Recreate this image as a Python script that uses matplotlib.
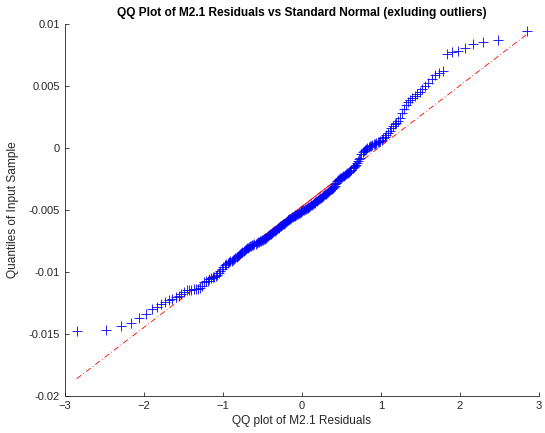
import statistics
import numpy as np
import matplotlib
matplotlib.use("Agg")
import matplotlib.pyplot as plt

plt.rcParams['font.family'] = ['Liberation Sans', 'DejaVu Sans']

# sorted residuals (M2.1, outliers removed)
residuals = [
    -0.01472, -0.01464, -0.01432, -0.01408, -0.01375, -0.01338, -0.01300, -0.01280, -0.01262, -0.01238,
    -0.01227, -0.01216, -0.01205, -0.01190, -0.01176, -0.01160, -0.01149, -0.01146, -0.01143, -0.01140,
    -0.01137, -0.01135, -0.01133, -0.01110, -0.01082, -0.01076, -0.01069, -0.01060, -0.01052, -0.01044,
    -0.01037, -0.01030, -0.01022, -0.01005, -0.00988, -0.00972, -0.00957, -0.00945, -0.00938, -0.00930,
    -0.00922, -0.00915, -0.00908, -0.00901, -0.00894, -0.00886, -0.00879, -0.00872, -0.00865, -0.00858,
    -0.00848, -0.00838, -0.00830, -0.00823, -0.00816, -0.00810, -0.00804, -0.00799, -0.00794, -0.00789,
    -0.00784, -0.00779, -0.00775, -0.00771, -0.00767, -0.00762, -0.00758, -0.00754, -0.00749, -0.00744,
    -0.00740, -0.00735, -0.00731, -0.00727, -0.00722, -0.00715, -0.00708, -0.00702, -0.00696, -0.00690,
    -0.00685, -0.00679, -0.00673, -0.00667, -0.00661, -0.00655, -0.00649, -0.00642, -0.00637, -0.00632,
    -0.00626, -0.00620, -0.00615, -0.00609, -0.00603, -0.00596, -0.00590, -0.00584, -0.00579, -0.00574,
    -0.00569, -0.00564, -0.00559, -0.00554, -0.00551, -0.00547, -0.00543, -0.00539, -0.00534, -0.00530,
    -0.00526, -0.00521, -0.00517, -0.00512,
    -0.00508, -0.00503, -0.00499, -0.00494, -0.00490, -0.00486, -0.00481, -0.00477, -0.00472, -0.00467,
    -0.00461, -0.00456, -0.00451, -0.00446, -0.00440, -0.00435, -0.00429, -0.00424, -0.00418, -0.00412,
    -0.00407, -0.00401, -0.00396, -0.00390, -0.00386, -0.00380, -0.00374, -0.00368, -0.00362, -0.00355,
    -0.00348, -0.00341, -0.00334, -0.00327, -0.00320, -0.00312, -0.00303, -0.00293, -0.00282, -0.00270,
    -0.00260, -0.00252, -0.00245, -0.00239, -0.00233, -0.00228, -0.00222, -0.00216, -0.00210, -0.00204,
    -0.00198, -0.00192, -0.00185, -0.00175, -0.00165, -0.00155, -0.00145, -0.00134, -0.00120, -0.00105,
    -0.00092, -0.00080, -0.00050, -0.00034, -0.00024, -0.00016, -0.00008, -0.00002, 0.00006, 0.00014,
    0.00020, 0.00026, 0.00031, 0.00036, 0.00041, 0.00046, 0.00052, 0.00059, 0.00067, 0.00078,
    0.00090, 0.00105, 0.00120, 0.00137, 0.00158, 0.00178, 0.00190, 0.00203, 0.00215, 0.00240,
    0.00280, 0.00315, 0.00350, 0.00375, 0.00388, 0.00400, 0.00418, 0.00436, 0.00455, 0.00478,
    0.00503, 0.00528, 0.00555, 0.00587, 0.00605, 0.00625, 0.00756, 0.00774, 0.00781, 0.00809,
    0.00837, 0.00855, 0.00874, 0.00941,
]

x_ticks = [-3, -2, -1, 0, 1, 2, 3]
y_ticks = [-0.02, -0.015, -0.01, -0.005, 0, 0.005, 0.01]
y_ticklabels = ["-0.02", "-0.015", "-0.01", "-0.005", "0", "0.005", "0.01"]

# theoretical normal quantiles like matlab's qqplot: (i-0.5)/n
y = np.sort(np.array(residuals))
n = len(y)
nd = statistics.NormalDist()
x = np.array([nd.inv_cdf((i - 0.5) / n) for i in range(1, n + 1)])

# reference line through the 1st and 3rd quartiles
q1x, q3x = nd.inv_cdf(0.25), nd.inv_cdf(0.75)
q1y, q3y = np.percentile(y, [25, 75])
slope = (q3y - q1y) / (q3x - q1x)
icpt = q1y - slope * q1x

fig = plt.figure(figsize=(5.45, 4.33), dpi=100)
ax = fig.add_axes([0.119, 0.0855, 0.870, 0.859])

xe = np.array([x.min(), x.max()])
ax.plot(xe, icpt + slope * xe, color='red', lw=0.6, linestyle=(0, (7, 3, 1, 3)))
xq = np.array([q1x, q3x])
ax.plot(xq, icpt + slope * xq, color='red', lw=0.6)
ax.plot(x, y, '+', color='blue', mec='blue', ms=7, mew=0.6)

ax.set_xlim(-3, 3)
ax.set_ylim(-0.02, 0.01)
ax.set_xticks(x_ticks)
ax.set_yticks(y_ticks)
ax.set_yticklabels(y_ticklabels)

for s in ['top', 'right']:
    ax.spines[s].set_visible(False)
for s in ['left', 'bottom']:
    ax.spines[s].set_color('#262626')
    ax.spines[s].set_linewidth(0.6)
ax.tick_params(direction='in', length=3, width=0.6, colors='#262626', labelsize=8)

ax.set_title("QQ Plot of M2.1 Residuals vs Standard Normal (exluding outliers)",
             fontsize=8.6, fontweight='bold', pad=6)
ax.set_xlabel("QQ plot of M2.1 Residuals", fontsize=8.6, color='#262626', labelpad=3)
ax.set_ylabel("Quantiles of Input Sample", fontsize=8.6, color='#262626', labelpad=7)

fig.savefig("out.png", dpi=100)
